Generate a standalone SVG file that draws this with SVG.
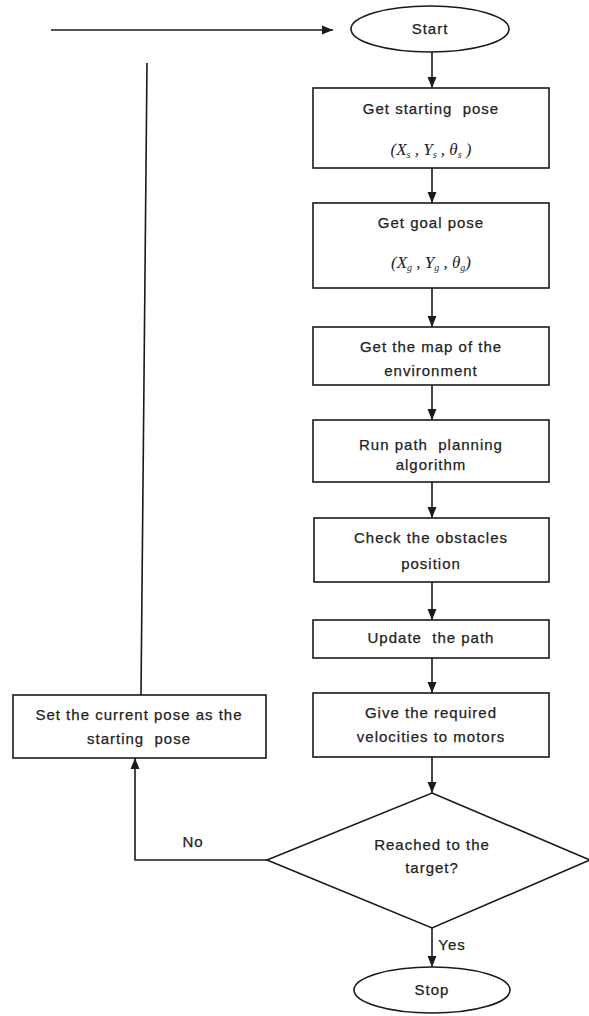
<svg xmlns="http://www.w3.org/2000/svg" width="589" height="1016" viewBox="0 0 589 1016">
<style>
.box{fill:#fff;stroke:#1a1a1a;stroke-width:1.6}
.ln{fill:none;stroke:#1a1a1a;stroke-width:1.6}
.t{font-family:"Liberation Sans",Arial,sans-serif;font-size:15px;letter-spacing:1px;fill:#222;stroke:#222;stroke-width:0.25px;text-anchor:middle;white-space:pre}
.m{font-family:"Liberation Serif","Times New Roman",serif;font-size:17px;font-style:italic;fill:#1e1e2e;text-anchor:middle;white-space:pre}
.s{font-size:10px}
</style>
<defs>
<marker id="ah" markerUnits="userSpaceOnUse" markerWidth="12" markerHeight="10" refX="11" refY="5" orient="auto">
<path d="M0,0.5 L11,5 L0,9.5 z" fill="#1a1a1a"/>
</marker>
</defs>
<g id="connectors">
<line class="ln" x1="51" y1="30" x2="333" y2="30" marker-end="url(#ah)"/>
<line class="ln" x1="147" y1="63" x2="141" y2="695"/>
<line class="ln" x1="432" y1="52" x2="432" y2="88" marker-end="url(#ah)"/>
<line class="ln" x1="432" y1="168" x2="432" y2="203" marker-end="url(#ah)"/>
<line class="ln" x1="432" y1="288" x2="432" y2="327" marker-end="url(#ah)"/>
<line class="ln" x1="432" y1="385" x2="432" y2="420" marker-end="url(#ah)"/>
<line class="ln" x1="432" y1="482" x2="432" y2="518" marker-end="url(#ah)"/>
<line class="ln" x1="432" y1="582" x2="432" y2="620" marker-end="url(#ah)"/>
<line class="ln" x1="432" y1="658" x2="432" y2="693" marker-end="url(#ah)"/>
<line class="ln" x1="432" y1="757" x2="432" y2="793" marker-end="url(#ah)"/>
<line class="ln" x1="432" y1="928" x2="432" y2="967" marker-end="url(#ah)"/>
<polyline class="ln" points="267,860 135,860 135,758" marker-end="url(#ah)"/>
<text class="t" x="193" y="847">No</text>
<text class="t" x="452" y="950">Yes</text>
</g>
<g id="start">
<ellipse class="box" cx="430" cy="29" rx="79" ry="23"/>
<text class="t" x="430" y="34">Start</text>
</g>
<g id="get-starting-pose">
<rect class="box" x="313" y="88" width="236" height="80"/>
<text class="t" x="431" y="114">Get starting  pose</text>
<text class="m" x="431" y="155">(X<tspan class="s" dy="3">s</tspan><tspan dy="-3"> , Y</tspan><tspan class="s" dy="3">s</tspan><tspan dy="-3"> , θ</tspan><tspan class="s" dy="3">s</tspan><tspan dy="-3"> )</tspan></text>
</g>
<g id="get-goal-pose">
<rect class="box" x="313" y="203" width="236" height="85"/>
<text class="t" x="431" y="228">Get goal pose</text>
<text class="m" x="431" y="268">(X<tspan class="s" dy="3">g</tspan><tspan dy="-3"> , Y</tspan><tspan class="s" dy="3">g</tspan><tspan dy="-3"> , θ</tspan><tspan class="s" dy="3">g</tspan><tspan dy="-3">)</tspan></text>
</g>
<g id="get-map">
<rect class="box" x="313" y="327" width="236" height="58"/>
<text class="t" x="431" y="352">Get the map of the</text>
<text class="t" x="431" y="376">environment</text>
</g>
<g id="run-path-planning">
<rect class="box" x="313" y="420" width="236" height="62"/>
<text class="t" x="431" y="450">Run path  planning</text>
<text class="t" x="431" y="470">algorithm</text>
</g>
<g id="check-obstacles">
<rect class="box" x="314" y="518" width="235" height="64"/>
<text class="t" x="431" y="543">Check the obstacles</text>
<text class="t" x="431" y="569">position</text>
</g>
<g id="update-path">
<rect class="box" x="313" y="620" width="236" height="38"/>
<text class="t" x="431" y="643">Update  the path</text>
</g>
<g id="give-velocities">
<rect class="box" x="313" y="693" width="236" height="64"/>
<text class="t" x="431" y="718">Give the required</text>
<text class="t" x="431" y="742">velocities to motors</text>
</g>
<g id="set-current-pose">
<rect class="box" x="13" y="695" width="253" height="63"/>
<text class="t" x="139" y="720">Set the current pose as the</text>
<text class="t" x="139" y="744">starting  pose</text>
</g>
<g id="reached-target">
<polygon class="box" points="432,793 590,860 432,928 267,860"/>
<text class="t" x="432" y="850">Reached to the</text>
<text class="t" x="432" y="873">target?</text>
</g>
<g id="stop">
<ellipse class="box" cx="432" cy="990" rx="78" ry="23"/>
<text class="t" x="432" y="995">Stop</text>
</g>
</svg>
